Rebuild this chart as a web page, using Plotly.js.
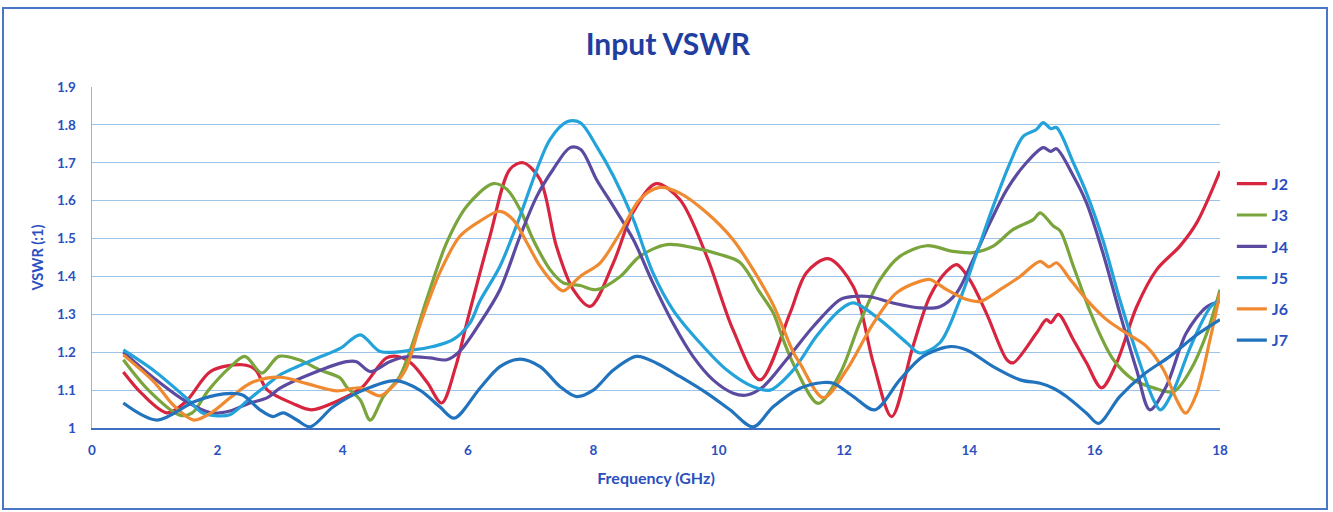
<!DOCTYPE html>
<html>
<head>
<meta charset="utf-8">
<script src="https://cdn.plot.ly/plotly-3.0.1.min.js"></script>
<style>
  html, body { margin: 0; padding: 0; background: #ffffff; }
  #chart { position: absolute; left: 0; top: 0; width: 1333px; height: 512px; }
  #frame { position: absolute; left: 2px; top: 7px; width: 1322px; height: 499px;
           border: 2px solid #4a76c6; pointer-events: none; }
</style>
</head>
<body>
<div id="chart"></div>
<div id="frame"></div>
<script>
// ---- data ----
const seriesNames = ["J2", "J3", "J4", "J5", "J6", "J7"];

const j2x = [0.5,0.8,1.2,1.5,1.9,2.4,2.6,2.8,3.2,3.5,3.9,4.3,4.7,4.9,5.1,5.35,5.58,5.8,6.0,6.35,6.67,6.88,7.15,7.41,7.68,7.95,8.32,8.63,9.0,9.38,9.81,10.23,10.66,11.14,11.4,11.75,12.15,12.47,12.76,13.1,13.37,13.64,13.8,14.01,14.28,14.6,14.7,15.07,15.23,15.3,15.42,15.66,15.87,16.11,16.35,16.67,16.99,17.36,17.63,18.0];
const j2y = [1.148,1.09,1.04,1.07,1.15,1.167,1.155,1.10,1.065,1.048,1.07,1.106,1.185,1.188,1.17,1.12,1.066,1.16,1.29,1.506,1.683,1.70,1.656,1.48,1.365,1.321,1.436,1.568,1.645,1.603,1.453,1.259,1.127,1.304,1.41,1.447,1.373,1.17,1.03,1.215,1.347,1.414,1.431,1.39,1.30,1.18,1.172,1.25,1.286,1.278,1.30,1.233,1.172,1.106,1.172,1.32,1.418,1.48,1.542,1.678];

const j3x = [0.5,0.9,1.4,1.6,1.86,2.2,2.44,2.71,2.98,3.3,3.64,3.96,4.06,4.28,4.44,4.65,4.91,5.12,5.34,5.66,5.98,6.4,6.62,6.83,7.04,7.31,7.52,7.79,8.05,8.43,8.74,9.17,9.59,10.02,10.34,10.66,10.87,11.03,11.24,11.59,11.94,12.25,12.57,12.89,13.32,13.74,14.06,14.38,14.7,15.02,15.13,15.34,15.45,15.66,15.98,16.3,16.62,16.94,17.26,17.53,17.79,18.0];
const j3y = [1.18,1.10,1.034,1.04,1.10,1.16,1.189,1.145,1.189,1.18,1.153,1.132,1.109,1.074,1.021,1.083,1.136,1.225,1.339,1.489,1.585,1.645,1.63,1.577,1.497,1.418,1.383,1.376,1.365,1.40,1.453,1.484,1.476,1.458,1.437,1.357,1.304,1.233,1.153,1.065,1.145,1.277,1.39,1.453,1.481,1.466,1.463,1.48,1.524,1.55,1.568,1.533,1.52,1.427,1.286,1.18,1.127,1.106,1.096,1.153,1.25,1.365];

const j4x = [0.5,1.0,1.5,1.9,2.2,2.5,2.8,3.0,3.53,4.06,4.22,4.44,4.75,5.02,5.39,5.66,5.87,6.19,6.51,6.83,7.1,7.36,7.63,7.8,8.05,8.32,8.64,8.95,9.27,9.59,9.91,10.23,10.45,10.71,11.08,11.51,11.94,12.15,12.4,12.78,13.21,13.53,13.8,14.06,14.33,14.6,14.91,15.18,15.3,15.39,15.66,15.87,16.13,16.4,16.67,16.88,17.14,17.46,17.79,18.0];
const j4y = [1.20,1.13,1.07,1.04,1.045,1.065,1.08,1.105,1.145,1.175,1.175,1.149,1.175,1.188,1.185,1.18,1.203,1.277,1.365,1.506,1.612,1.683,1.74,1.735,1.656,1.585,1.497,1.383,1.277,1.189,1.127,1.092,1.087,1.109,1.18,1.268,1.339,1.347,1.347,1.33,1.317,1.32,1.357,1.444,1.542,1.63,1.70,1.74,1.73,1.737,1.665,1.594,1.463,1.304,1.153,1.048,1.109,1.25,1.32,1.334];

const j5x = [0.5,1.0,1.5,1.76,2.0,2.2,2.5,2.8,3.0,3.53,3.96,4.28,4.6,5.12,5.44,5.76,6.03,6.19,6.51,6.83,7.1,7.31,7.58,7.79,8.05,8.32,8.64,8.95,9.27,9.7,10.13,10.55,10.82,11.19,11.56,11.94,12.15,12.57,13.0,13.21,13.53,13.85,14.12,14.38,14.65,14.86,15.07,15.18,15.3,15.39,15.66,15.87,16.13,16.4,16.72,16.94,17.05,17.26,17.53,17.85,18.0];
const j5y = [1.206,1.15,1.08,1.04,1.032,1.035,1.075,1.115,1.14,1.18,1.21,1.246,1.202,1.206,1.215,1.233,1.277,1.335,1.427,1.559,1.683,1.762,1.808,1.806,1.744,1.665,1.55,1.41,1.312,1.225,1.153,1.109,1.10,1.153,1.242,1.312,1.33,1.286,1.225,1.198,1.225,1.339,1.463,1.585,1.70,1.77,1.788,1.806,1.79,1.793,1.70,1.62,1.497,1.339,1.172,1.074,1.048,1.10,1.215,1.32,1.339];

const j6x = [0.5,1.0,1.3,1.62,1.9,2.23,2.55,3.0,3.43,3.9,4.28,4.6,4.8,5.0,5.23,5.55,5.87,6.19,6.51,6.72,6.94,7.15,7.41,7.52,7.79,8.11,8.43,8.74,9.06,9.38,9.81,10.23,10.55,10.87,11.19,11.3,11.67,12.04,12.47,12.84,13.21,13.37,13.64,13.96,14.17,14.49,14.81,15.13,15.27,15.39,15.61,15.87,16.19,16.51,16.83,17.1,17.31,17.45,17.63,17.84,18.0];
const j6y = [1.193,1.12,1.06,1.021,1.04,1.083,1.12,1.134,1.117,1.098,1.106,1.085,1.11,1.153,1.27,1.41,1.506,1.546,1.572,1.55,1.489,1.427,1.374,1.362,1.40,1.436,1.516,1.603,1.635,1.62,1.568,1.497,1.418,1.325,1.2,1.17,1.08,1.153,1.277,1.357,1.387,1.392,1.365,1.339,1.334,1.365,1.40,1.44,1.425,1.436,1.392,1.339,1.286,1.25,1.215,1.153,1.074,1.039,1.092,1.233,1.356];

const j7x = [0.5,1.04,1.64,2.1,2.4,2.68,2.89,3.05,3.27,3.48,3.85,4.33,4.85,5.23,5.55,5.78,6.19,6.51,6.83,7.15,7.47,7.73,8.0,8.32,8.69,9.01,9.38,9.81,10.18,10.55,10.87,11.3,11.67,11.83,12.15,12.49,12.89,13.26,13.69,13.96,14.38,14.81,15.13,15.34,15.55,15.87,16.06,16.4,16.77,17.2,17.63,18.0];
const j7y = [1.066,1.021,1.07,1.09,1.087,1.048,1.03,1.04,1.021,1.003,1.056,1.10,1.125,1.10,1.056,1.026,1.105,1.162,1.182,1.162,1.109,1.083,1.10,1.153,1.189,1.171,1.136,1.092,1.048,1.003,1.056,1.105,1.12,1.118,1.083,1.048,1.127,1.189,1.215,1.206,1.162,1.127,1.118,1.105,1.083,1.039,1.012,1.083,1.14,1.189,1.246,1.286];

const xValues = [j2x, j3x, j4x, j5x, j6x, j7x];
const yValues = [j2y, j3y, j4y, j5y, j6y, j7y];
const colors = ["#d8253f", "#79a53c", "#5b4a9f", "#23a3da", "#f08a30", "#2273bd"];

const xTickVals = [0,2,4,6,8,10,12,14,16,18];
const yTickVals = [1,1.1,1.2,1.3,1.4,1.5,1.6,1.7,1.8,1.9];

const textBlue = "#2a4fbf";
const fontFam = "Lato, 'Open Sans', sans-serif";

const traces = seriesNames.map((name, i) => ({
  type: "scatter",
  mode: "lines",
  name: "<b>" + name + "</b>",
  legendgroup: name,
  x: xValues[i],
  y: yValues[i],
  line: { color: colors[i], width: 3.2, shape: "spline", smoothing: 0.9 },
  hoverinfo: "x+y+name"
}));

const layout = {
  width: 1333,
  height: 512,
  paper_bgcolor: "#ffffff",
  plot_bgcolor: "#ffffff",
  margin: { l: 92, r: 113, t: 87, b: 84 },
  title: {
    text: "<b>Input VSWR</b>",
    x: 0.501, xref: "container", xanchor: "center",
    y: 0.913, yanchor: "middle",
    font: { family: fontFam, size: 30, color: "#1f3ea0" }
  },
  xaxis: {
    range: [0, 18],
    tickvals: xTickVals,
    ticktext: xTickVals.map(v => "<b>" + v + "</b>"),
    showgrid: false,
    zeroline: false,
    showline: true,
    linecolor: "#3f6fc0",
    linewidth: 2,
    ticks: "",
    ticklabelstandoff: 9,
    tickfont: { family: fontFam, size: 13.5, color: textBlue },
    title: { text: "<b>Frequency (GHz)</b>", font: { family: fontFam, size: 16, color: textBlue }, standoff: 16 }
  },
  yaxis: {
    range: [1, 1.9],
    tickvals: yTickVals,
    ticktext: yTickVals.map(v => "<b>" + (Math.round(v * 10) / 10) + "</b>"),
    showgrid: true,
    gridcolor: "#9cc3e8",
    gridwidth: 1,
    zeroline: false,
    showline: true,
    linecolor: "#8fb6e3",
    linewidth: 1.5,
    ticks: "",
    ticklabelstandoff: 12,
    tickfont: { family: fontFam, size: 13.5, color: textBlue },
    title: { text: "<b>VSWR (:1)</b>", font: { family: fontFam, size: 14.5, color: textBlue }, standoff: 10 }
  },
  showlegend: true,
  legend: {
    x: 1.0105, xanchor: "left",
    y: 0.766, yanchor: "top",
    bgcolor: "rgba(0,0,0,0)",
    font: { family: fontFam, size: 16, color: textBlue },
    tracegroupgap: 7.5,
    traceorder: "grouped"
  }
};

Plotly.newPlot("chart", traces, layout, { displayModeBar: false, staticPlot: true });
</script>
</body>
</html>
